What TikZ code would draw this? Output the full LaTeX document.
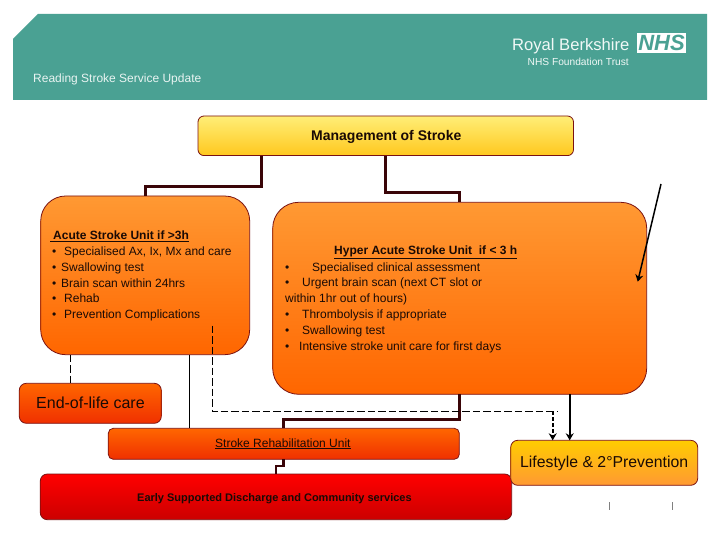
\documentclass[tikz,border=0pt]{standalone}
\usepackage{fontspec}
\setmainfont{Liberation Sans}
\usetikzlibrary{arrows.meta}
\definecolor{teal1}{HTML}{4AA193}
\definecolor{edge}{HTML}{7A1212}
\definecolor{conn}{HTML}{3A0508}
\definecolor{ink}{HTML}{1A0A05}
\definecolor{orange1}{HTML}{FF9933}
\definecolor{orange2}{HTML}{FF6600}
\definecolor{yellow1}{HTML}{FFEE77}
\definecolor{yellow2}{HTML}{FFC81E}
\definecolor{redorange}{HTML}{F03000}
\definecolor{red1}{HTML}{FF0000}
\definecolor{red2}{HTML}{CC0000}
\definecolor{amber}{HTML}{FFCC00}
\tikzset{
  x=1pt,y=-1pt,
  boxbase/.style={draw=edge,line width=0.8pt,inner sep=0pt,outer sep=0pt},
  orangebox/.style={boxbase,top color=orange1,bottom color=orange2},
  txt/.style={anchor=base west,inner sep=0pt,text=ink,font=\fontsize{12}{14}\selectfont},
  headtxt/.style={txt,text=white!88!teal1},
  mainline/.style={draw=conn,line width=2.7pt},
  plainline/.style={draw=black,line width=0.9pt},
  dashline/.style={draw=black,line width=0.9pt,dash pattern=on 7.5pt off 3pt},
  tipped/.style={-{Stealth[length=7pt,width=8pt]}},
}
\begin{document}
\begin{tikzpicture}
\useasboundingbox (0,0) rectangle (720,540);
\fill[white] (0,0) rectangle (720,540);
% header
\fill[teal1] (38,14) -- (707,14) -- (707,100) -- (13,100) -- (13,39) -- cycle;
\node[headtxt,font=\fontsize{12}{14}\selectfont] (title) at (33,83) {Reading Stroke Service Update};
\node[headtxt,text=white!92!teal1,font=\fontsize{16.6}{18}\selectfont] (trust) at (512,50.5) {Royal Berkshire};
\node[headtxt,text=white!92!teal1,font=\fontsize{10.2}{12}\selectfont] (ft) at (527.5,65.5) {NHS Foundation Trust};
\node[fill=white,text=teal1,inner sep=0pt,minimum width=49pt,minimum height=20pt,font=\fontsize{22}{22}\selectfont\bfseries\itshape] (nhs) at (661.5,43) {NHS};
% boxes
\node[boxbase,rounded corners=6pt,minimum width=375.5pt,minimum height=39.6pt,top color=yellow1,bottom color=yellow2] (mgmt) at (385.75,135.8) {};
\node[orangebox,rounded corners=25pt,minimum width=209pt,minimum height=158.7pt] (acute) at (145.2,275.35) {};
\node[orangebox,rounded corners=26pt,minimum width=374pt,minimum height=192pt] (hyper) at (459.7,298.3) {};
\node[boxbase,rounded corners=7pt,minimum width=142pt,minimum height=40pt,top color=orange2,bottom color=redorange] (eol) at (90.3,403.3) {};
\node[boxbase,rounded corners=5pt,minimum width=351pt,minimum height=31pt,top color=orange2,bottom color=redorange] (rehab) at (283.8,443.8) {};
\node[boxbase,rounded corners=7pt,minimum width=471.4pt,minimum height=45.7pt,top color=red1,bottom color=red2] (esd) at (276,496.85) {};
\node[boxbase,rounded corners=7pt,minimum width=187pt,minimum height=45pt,top color=amber,bottom color=orange1] (life) at (604.2,462.8) {};
% texts
\node[txt,font=\fontsize{14}{16}\selectfont\bfseries] (t1) at (311,141) {Management of Stroke};
\node[txt,font=\fontsize{12}{14}\selectfont\bfseries] (a0) at (50,239.5) {\underline{\hspace{3pt}Acute Stroke Unit if >3h}};
\node[txt] (a1b) at (52,255.5) {•}; \node[txt] (a1) at (64,255.5) {Specialised Ax, Ix, Mx and care};
\node[txt] (a2b) at (52,271.5) {•}; \node[txt] (a2) at (61,271.5) {Swallowing test};
\node[txt] (a3b) at (52,287.5) {•}; \node[txt] (a3) at (61,287.5) {Brain scan within 24hrs};
\node[txt] (a4b) at (52,302.5) {•}; \node[txt] (a4) at (64,302.5) {Rehab};
\node[txt] (a5b) at (52,318.5) {•}; \node[txt] (a5) at (64,318.5) {Prevention Complications};
\node[txt,font=\fontsize{12}{14}\selectfont\bfseries] (h0) at (334,254.5) {\underline{Hyper Acute Stroke Unit\ \ if < 3 h}};
\node[txt] (h1b) at (285,271) {•}; \node[txt] (h1) at (312,271) {Specialised clinical assessment};
\node[txt] (h2b) at (285,286.5) {•}; \node[txt] (h2) at (302,286.5) {Urgent brain scan (next CT slot or};
\node[txt] (h3) at (285,302) {within 1hr out of hours)};
\node[txt] (h4b) at (285,318) {•}; \node[txt] (h4) at (302,318) {Thrombolysis if appropriate};
\node[txt] (h5b) at (285,334) {•}; \node[txt] (h5) at (302,334) {Swallowing test};
\node[txt] (h6b) at (285,350) {•}; \node[txt] (h6) at (299,350) {Intensive stroke unit care for first days};
\node[txt,font=\fontsize{16}{18}\selectfont] (t2) at (36,408.5) {End-of-life care};
\node[txt] (t3) at (215,447) {\underline{Stroke Rehabilitation Unit}};
\node[txt,font=\fontsize{11}{13}\selectfont\bfseries] (t4) at (137,501) {Early Supported Discharge and Community services};
\node[txt,font=\fontsize{15.8}{18}\selectfont] (t5) at (520,467.5) {Lifestyle \& 2°Prevention};
% connector way-points
\coordinate (m1) at (261.7,186.7);
\coordinate (m2) at (145.2,186.7);
\coordinate (m3) at (385.75,192.7);
\coordinate (m4) at (459.7,192.7);
\coordinate (r1) at (459.7,419.3);
\coordinate (r2) at (283.8,419.3);
\coordinate (s1) at (283.8,466);
\coordinate (s2) at (276,466);
\coordinate (d0) at (212,325.7);
\coordinate (d1) at (212,411.3);
\coordinate (d2) at (558,411.3);
\coordinate (d3) at (552.7,411.3);
\coordinate (e1) at (70.3,354.7);
\coordinate (l1) at (189.3,354.7);
\coordinate (f1) at (569.7,394.3);
\coordinate (g1) at (661,184);
\coordinate (g2) at (637.7,281.7);
\coordinate (k1) at (609.3,502.3);
\coordinate (k2) at (609.3,510);
\coordinate (k3) at (672.3,502.3);
\coordinate (k4) at (672.3,510);
% connectors
\draw[mainline] (mgmt.south -| m1) -- (m1) -- (m2) -- (acute.north);
\draw[mainline] (mgmt.south) -- (m3) -- (m4) -- (hyper.north);
\draw[mainline] (hyper.south) -- (r1) -- (r2) -- (rehab.north);
\draw[mainline] (rehab.south) -- (s1) -- (s2) -- (esd.north);
\draw[dashline] (d0) -- (d1) -- (d2);
\draw[dashline] (e1) -- (eol.north -| e1);
\draw[plainline] (l1) -- (rehab.north -| l1);
\draw[dashline,line width=2pt,dash pattern=on 4pt off 2pt,tipped] (d3) -- (life.north -| d3);
\draw[plainline,line width=2pt,tipped] (f1) -- (life.north -| f1);
\draw[plainline,line width=1.5pt,tipped] (g1) -- (g2);
\draw[gray,line width=0.7pt] (k1) -- (k2);
\draw[gray,line width=0.7pt] (k3) -- (k4);
\end{tikzpicture}
\end{document}
